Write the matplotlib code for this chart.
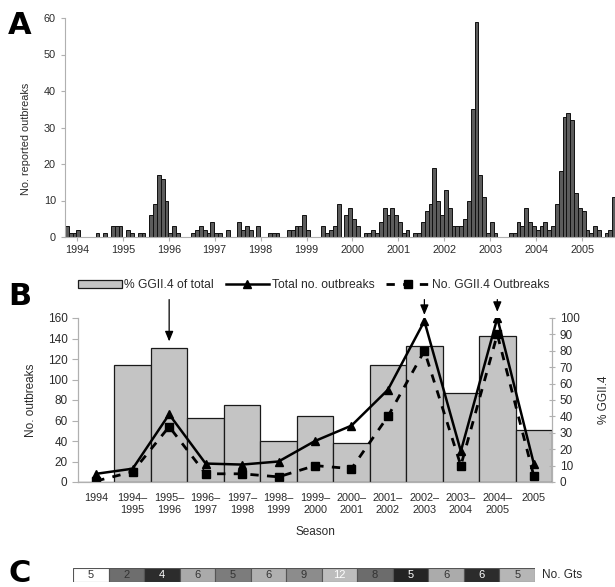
import numpy as np
import matplotlib
matplotlib.use("Agg")
import matplotlib.pyplot as plt

plt.rcParams["font.family"] = ["Liberation Sans", "DejaVu Sans"]

# Panel A: reported outbreaks per month, 1994-2005
monthly = [
    3, 1, 1, 2, 0, 0, 0, 0, 1, 0, 1, 0,
    3, 3, 3, 0, 2, 1, 0, 1, 1, 0, 6, 9,
    17, 16, 10, 1, 3, 1, 0, 0, 0, 1, 2, 3,
    2, 1, 4, 1, 1, 0, 2, 0, 0, 4, 2, 3,
    2, 0, 3, 0, 0, 1, 1, 1, 0, 0, 2, 2,
    3, 3, 6, 2, 0, 0, 0, 3, 1, 2, 3, 9,
    0, 6, 8, 5, 3, 0, 1, 1, 2, 1, 4, 8,
    6, 8, 6, 4, 1, 2, 0, 1, 1, 4, 7, 9,
    19, 10, 6, 13, 8, 3, 3, 3, 5, 10, 35, 59,
    17, 11, 1, 4, 1, 0, 0, 0, 1, 1, 4, 3,
    8, 4, 3, 2, 3, 4, 2, 3, 9, 18, 33, 34,
    32, 12, 8, 7, 2, 1, 3, 2, 0, 1, 2, 11,
]
years = [str(y) for y in range(1994, 2006)]

# Panel B: per season
seasons = ["1994", "1994\u2013\n1995", "1995\u2013\n1996", "1996\u2013\n1997",
           "1997\u2013\n1998", "1998\u2013\n1999", "1999\u2013\n2000",
           "2000\u2013\n2001", "2001\u2013\n2002", "2002\u2013\n2003",
           "2003\u2013\n2004", "2004\u2013\n2005", "2005"]
pct_ggii4 = [0, 71.5, 82, 39, 47, 25, 40, 23.5, 71.5, 83, 54.5, 89, 31.5]
total_outbreaks = [8, 13, 66, 18, 17, 20, 40, 55, 90, 157, 30, 160, 18]
ggii4_outbreaks = [1, 10, 54, 8, 8, 5, 16, 13, 64, 128, 16, 144, 6]
arrow_seasons = [2, 9, 11]

# Panel C: number of genotypes per season
n_gts = [5, 2, 4, 6, 5, 6, 9, 12, 8, 5, 6, 6, 5]
cell_colors = ["#ffffff", "#6e6e6e", "#2c2c2c", "#aaaaaa", "#7c7c7c", "#b0b0b0",
               "#8c8c8c", "#bdbdbd", "#6c6c6c", "#242424", "#ababab", "#2c2c2c",
               "#b6b6b6"]
text_colors = ["#333333", "#333333", "#ffffff", "#333333", "#333333", "#333333",
               "#333333", "#ffffff", "#333333", "#ffffff", "#333333", "#ffffff",
               "#333333"]

W, H = 615, 587
fig = plt.figure(figsize=(W / 100, H / 100), dpi=100)

def fbox(x0, y0, x1, y1):
    # pixel box (top-left origin) -> figure fraction rect
    return [x0 / W, 1 - y1 / H, (x1 - x0) / W, (y1 - y0) / H]

axis_gray = "#b0b0b0"
txt = "#2a2a2a"

# ---------------- A ----------------
axA = fig.add_axes(fbox(65, 18, 615, 237))
m = np.arange(len(monthly))
axA.bar(m, monthly, width=1.0, color="#5c5c5c", edgecolor="#111111", linewidth=0.7)
axA.set_xlim(-0.5, 143.2)
axA.set_ylim(0, 60)
axA.set_yticks(range(0, 61, 10))
axA.set_xticks([2.6 + 12 * k for k in range(len(years))])
axA.set_xticklabels(years)
for s in ["top", "right"]:
    axA.spines[s].set_visible(False)
for s in ["left", "bottom"]:
    axA.spines[s].set_color(axis_gray)
axA.tick_params(axis="both", colors=axis_gray, labelcolor=txt, labelsize=7.8, length=3)
axA.tick_params(axis="x", pad=3)
axA.set_ylabel("No. reported outbreaks", fontsize=7.8, color=txt)
axA.yaxis.set_label_coords(-0.062, 0.45)

# ---------------- B ----------------
axB = fig.add_axes(fbox(78, 318, 552, 482))
axB2 = axB.twinx()
xs = np.arange(len(seasons))
bars = axB2.bar(xs, pct_ggii4, width=1.0, color="#c4c4c4", edgecolor="#1a1a1a",
                linewidth=0.9, label="% GGII.4 of total")
axB2.set_ylim(0, 100)
axB2.set_yticks(range(0, 101, 10))

axB.set_zorder(axB2.get_zorder() + 1)
axB.patch.set_visible(False)
l_tot, = axB.plot(xs, total_outbreaks, "-^", color="black", lw=1.8, ms=6,
                  label="Total no. outbreaks")
l_g4, = axB.plot(xs, ggii4_outbreaks, "--s", color="black", lw=2.0, ms=6,
                 dashes=(3, 3), label="No. GGII.4 Outbreaks")
axB.set_ylim(0, 160)
axB.set_xlim(-0.5, len(seasons) - 0.5)
axB.set_yticks(range(0, 161, 20))
axB.set_xticks(xs)
axB.set_xticklabels(seasons)

for a in (axB, axB2):
    a.spines["top"].set_visible(False)
    a.spines["left"].set_color(axis_gray)
    a.spines["right"].set_color(axis_gray)
    a.spines["bottom"].set_color(axis_gray)
axB.tick_params(axis="y", colors=axis_gray, labelcolor=txt, labelsize=8.5, length=4)
axB.tick_params(axis="x", length=0, labelcolor=txt, labelsize=7.8, pad=8)
axB2.tick_params(axis="y", colors=axis_gray, labelcolor=txt, labelsize=8.5,
                 length=4, direction="inout")
axB.set_ylabel("No. outbreaks", fontsize=8.5, color=txt)
axB.yaxis.set_label_coords(-0.087, 0.5)
axB2.set_ylabel("% GGII.4", fontsize=8.5, color=txt)
axB2.yaxis.set_label_coords(1.097, 0.5)
axB.set_xlabel("Season", fontsize=8.5, color=txt, labelpad=8)

for k in arrow_seasons:
    tip = max(total_outbreaks[k], pct_ggii4[k] * 1.6) + 6
    axB.annotate("", xy=(k, tip), xytext=(k, 178), annotation_clip=False,
                 arrowprops=dict(arrowstyle="-|>,head_length=0.6,head_width=0.25",
                                 color="black", lw=0.9, shrinkA=0, shrinkB=0))

fig.legend(handles=[bars, l_tot, l_g4], loc="center", ncol=3,
           bbox_to_anchor=(314 / W, 1 - 285 / H), frameon=False, fontsize=8.7,
           handlelength=3.6, handleheight=0.6, handletextpad=0.2,
           columnspacing=1.0, labelcolor=txt)

# ---------------- C ----------------
axC = fig.add_axes(fbox(73, 568, 535, 582))
axC.bar(xs, [1] * len(n_gts), width=1.0, color=cell_colors, edgecolor="#555555",
        linewidth=0.8)
for k, (n, tc) in enumerate(zip(n_gts, text_colors)):
    axC.text(k, 0.5, str(n), ha="center", va="center", fontsize=8, color=tc)
axC.set_xlim(-0.5, len(n_gts) - 0.5)
axC.set_ylim(0, 1)
axC.axis("off")
axC.text(len(n_gts) - 0.3, 0.5, "No. Gts", ha="left", va="center", fontsize=8.5,
         color=txt)

# panel letters
for letter, y in [("A", 34), ("B", 305), ("C", 582)]:
    fig.text(8 / W, 1 - y / H, letter, fontsize=22, fontweight="heavy",
             family="DejaVu Sans", va="baseline", ha="left")

fig.savefig("out.png", dpi=100)
